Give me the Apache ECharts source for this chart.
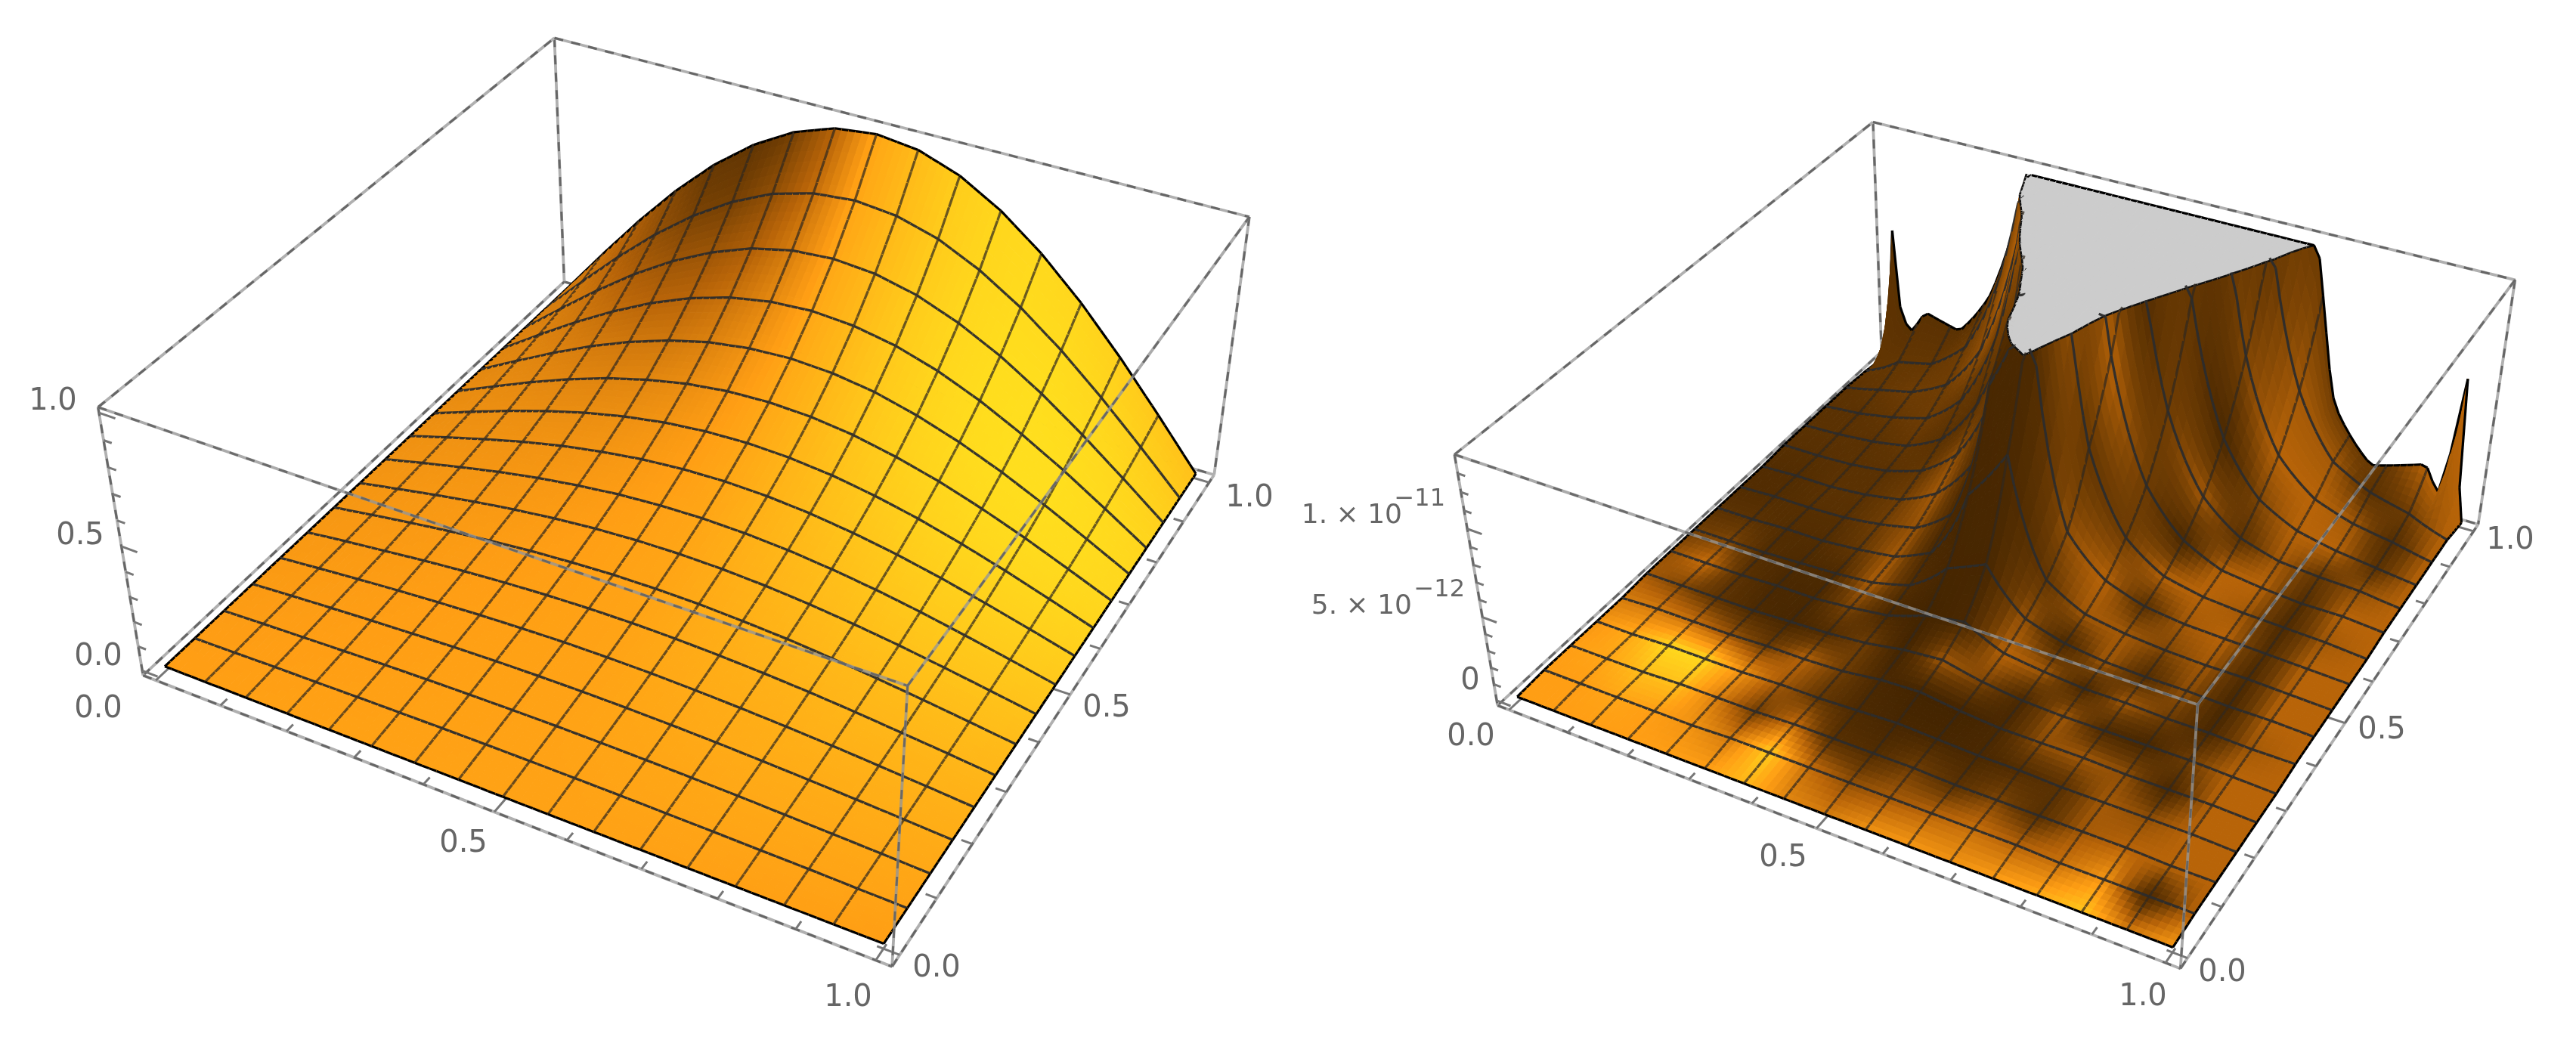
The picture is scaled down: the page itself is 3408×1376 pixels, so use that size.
<!DOCTYPE html>
<html><head><meta charset="utf-8">
<style>html,body{margin:0;padding:0;background:#fff}#c{width:3408px;height:1376px}</style>
<script src="https://cdn.jsdelivr.net/npm/echarts@6/dist/echarts.min.js"></script></head>
<body><div id="c"></div>
<script>
// ---------- values (rows: y = 0 .. 1, columns: x = 0 .. 1) ----------
const solutionZ = [
[0,0,0,0,0,0,0,0,0,0,0,0,0,0,0,0,0],
[0,.003,.007,.009,.012,.014,.016,.017,.017,.017,.016,.014,.012,.009,.007,.003,0],
[0,.007,.013,.019,.025,.029,.032,.034,.035,.034,.032,.029,.025,.019,.013,.007,0],
[0,.011,.021,.030,.038,.045,.050,.053,.054,.053,.050,.045,.038,.030,.021,.011,0],
[0,.015,.029,.042,.053,.062,.069,.074,.075,.074,.069,.062,.053,.042,.029,.015,0],
[0,.020,.038,.056,.071,.083,.092,.098,.100,.098,.092,.083,.071,.056,.038,.020,0],
[0,.025,.049,.071,.090,.106,.117,.125,.127,.125,.117,.106,.090,.071,.049,.025,0],
[0,.031,.061,.089,.113,.133,.148,.157,.160,.157,.148,.133,.113,.089,.061,.031,0],
[0,.039,.076,.111,.141,.165,.184,.195,.199,.195,.184,.165,.141,.111,.076,.039,0],
[0,.048,.094,.137,.174,.204,.227,.241,.246,.241,.227,.204,.174,.137,.094,.048,0],
[0,.059,.116,.168,.214,.251,.279,.296,.302,.296,.279,.251,.214,.168,.116,.059,0],
[0,.072,.142,.206,.262,.307,.342,.363,.370,.363,.342,.307,.262,.206,.142,.072,0],
[0,.088,.173,.252,.320,.376,.419,.444,.453,.444,.419,.376,.320,.252,.173,.088,0],
[0,.108,.212,.307,.391,.460,.511,.542,.553,.542,.511,.460,.391,.307,.212,.108,0],
[0,.131,.258,.375,.477,.560,.623,.661,.674,.661,.623,.560,.477,.375,.258,.131,0],
[0,.160,.314,.456,.580,.682,.759,.805,.821,.805,.759,.682,.580,.456,.314,.160,0],
[0,.195,.383,.556,.707,.831,.924,.981,1,.981,.924,.831,.707,.556,.383,.195,0]];

// error surface, in units of 1e-12 (values above the clip level lie under the grey plateau)
const errorZ = [
[0,0,0,0,0,0,0,0,0,0,0,0,0,0,0,0,0],
[.1,.1,.1,.1,.1,.2,.2,.2,.2,.2,.2,.2,.2,.1,.1,.1,.1],
[.1,.1,.1,.2,.2,.2,.3,.3,.3,.3,.2,.2,.2,.2,.2,.1,.1],
[.1,.1,.2,.2,.2,.3,.3,.4,.5,.4,.3,.3,.2,.2,.2,.2,.1],
[.1,.2,.2,.2,.3,.3,.4,.7,.8,.5,.3,.3,.3,.2,.2,.2,.1],
[.2,.2,.2,.2,.3,.4,.6,1.0,1.2,.7,.4,.3,.3,.3,.3,.2,.1],
[.2,.2,.2,.3,.3,.5,.8,1.6,2.0,.9,.6,.4,.4,.3,.3,.2,.2],
[.2,.2,.2,.3,.4,.6,1.2,3.0,4.0,1.5,.8,.5,.4,.4,.3,.3,.2],
[.2,.2,.3,.3,.5,.8,1.8,6,9,2.4,1.1,.7,.5,.4,.4,.3,.2],
[.2,.3,.3,.4,.7,1.2,2.8,11,16,3.9,1.7,.9,.6,.5,.4,.3,.2],
[.2,.3,.3,.5,.9,2.0,4.5,14,25,7.5,2.9,1.3,.8,.6,.5,.4,.2],
[.3,.3,.4,.7,1.4,3.1,7.3,18,30,11.5,4.7,2.1,1.0,.7,.5,.5,.3],
[.3,.4,.6,1.0,2.1,4.9,11,27,45,18.5,7.8,3.4,1.6,.9,.7,.6,.3],
[.3,.5,.9,1.5,3.3,7.8,19,47,78,31,13,5.6,2.6,1.4,.9,.6,.3],
[.3,.8,1.3,2.4,5.2,12,31,78,130,54,22,9.2,4.0,2.0,1.2,.8,.3],
[.2,1.4,1.9,3.6,8.5,20,50,125,200,91,38,15,6.6,3.0,1.8,1.2,.3],
[0,3.4,3,5,11,25,70,150,200,120,45,16,8,3,2.5,2.2,0]];

// finer reading of the back edge y = 1 of the error surface (spikes narrower than a mesh cell)
const errorBackX = [0,.0104,.0208,.0312,.048,.078,.141,.197,.227,.262,.30,.40,.50,.60,.70,.725,.742,.76,.784,.851,.935,.958,.979,1];
const errorBackZ = [0,2.5,8.2,3.5,2,3.6,3,5.7,8.6,13.6,22,80,200,80,18,14,12.8,9,4.9,1.9,2.9,1.4,8.6,0];

// colour level of the error surface read per mesh node (0 dark brown, .5 orange brown, .75 orange, 1 yellow)
const errorShade = [
[.75,.75,.75,.75,.75,.75,.85,.65,.6,.7,.72,.7,.75,.8,.9,.6,.72],
[.75,.75,.78,.75,.7,.6,.92,.55,.4,.45,.5,.55,.5,.55,.72,.12,.5],
[.75,.78,.87,.88,.62,.3,.55,.18,.15,.3,.2,.35,.18,.45,.5,.5,.5],
[.72,.8,.95,.95,.7,.45,.25,.12,.08,.08,.1,.15,.2,.45,.4,.5,.5],
[.6,.6,.55,.42,.28,.5,.3,.1,.05,.05,.1,.4,.45,.4,.1,.5,.5],
[.45,.35,.22,.12,.08,.15,.3,.05,.45,.35,.1,.45,.12,.08,.3,.5,.5],
[.4,.55,.2,.1,.1,.35,.1,.05,.1,.5,.45,.1,.45,.3,.1,.45,.5],
[.3,.35,.15,.12,.12,.48,.15,.08,.08,.42,.1,.45,.15,.4,.08,.5,.5],
[.2,.2,.15,.15,.25,.45,.1,.08,.1,.25,.45,.45,.35,.45,.12,.5,.5],
[.15,.15,.18,.18,.3,.42,.12,.1,.1,.4,.5,.2,.45,.5,.15,.5,.5],
[.15,.15,.2,.2,.3,.45,.15,.2,.5,.25,.3,.5,.5,.45,.12,.45,.5],
[.18,.18,.2,.2,.25,.4,.2,.35,.1,.5,.3,.1,.5,.5,.15,.5,.5],
[.2,.2,.2,.25,.2,.2,.3,.4,.3,.1,.3,.45,.2,.45,.25,.4,.5],
[.2,.2,.25,.3,.25,.3,.45,.35,.3,.3,.25,.1,.35,.5,.5,.2,.5],
[.2,.25,.3,.3,.4,.5,.4,.3,.3,.3,.2,.35,.5,.5,.45,.15,.5],
[.25,.25,.25,.3,.35,.4,.3,.3,.3,.3,.3,.25,.45,.45,.2,.3,.5],
[.2,.2,.2,.2,.25,.3,.3,.3,.3,.3,.3,.3,.3,.3,.25,.5,.5]];

const xyTicks = [0,.1,.2,.3,.4,.5,.6,.7,.8,.9,1];
const xyMajor = [0,.5,1];
const xyLabels = ['0.0','0.5','1.0'];
const zTicksLeft = [0,.1,.2,.3,.4,.5,.6,.7,.8,.9,1];
const zMajorLeft = [0,.5,1];
const zLabelsLeft = ['0.0','0.5','1.0'];
const zTicksRight = [0,1,2,3,4,5,6,7,8,9,10,11,12,13];
const zMajorRight = [0,5,10];
const zLabelsRight = ['0','5. × 10','1. × 10'];
const zExponents = ['−12','−11'];

// ---------- view calibration ----------
const panels = [{
  z: solutionZ, zBox:[-.02,1.02], clip:Infinity, sub:6, log:false,
  A:[[188,893],[131,538]], B:[[1180,1278],[1201,910]], C:[[1607,627],[1652,287]], D:[[747,375],[733,49]],
  zTicks:zTicksLeft, zMajor:zMajorLeft
},{
  z: errorZ, zBox:[-.3,14], clip:13.6, sub:6, log:true, shade:errorShade, backX:errorBackX, backZ:errorBackZ, crisp:true,
  A:[[1978,927],[1927,602]], B:[[2886,1282],[2907,939]], C:[[3282,685],[3323,374]], D:[[2488,478],[2480,153]],
  zTicks:zTicksRight, zMajor:zMajorRight
}];
const labelSpots = [
 {t:xyLabels[0],p:[130,939]},{t:xyLabels[1],p:[613,1117]},{t:xyLabels[2],p:[1122,1321]},
 {t:xyLabels[0],p:[1239,1282]},{t:xyLabels[1],p:[1464,938]},{t:xyLabels[2],p:[1653,660]},
 {t:zLabelsLeft[0],p:[130,870]},{t:zLabelsLeft[1],p:[106,710]},{t:zLabelsLeft[2],p:[70,532]},
 {t:xyLabels[0],p:[1946,976]},{t:xyLabels[1],p:[2359,1136]},{t:xyLabels[2],p:[2835,1320]},
 {t:xyLabels[0],p:[2940,1288]},{t:xyLabels[1],p:[3151,967]},{t:xyLabels[2],p:[3321,716]},
 {t:zLabelsRight[0],p:[1945,902]},
 {t:zLabelsRight[1],p:[1868,803],a:'right',s:36},{t:zExponents[0],p:[1938,781],a:'right',s:32},
 {t:zLabelsRight[2],p:[1855,683],a:'right',s:36},{t:zExponents[1],p:[1912,661],a:'right',s:32}
];

// ---------- projection: 3x4 camera matrix fitted to the eight box corners ----------
function fitCamera(p){
  const pts=[];
  [[0,0,p.A],[1,0,p.B],[1,1,p.C],[0,1,p.D]].forEach(c=>{
    pts.push([c[0],c[1],0,c[2][0][0]/1000,c[2][0][1]/1000]);
    pts.push([c[0],c[1],1,c[2][1][0]/1000,c[2][1][1]/1000]);
  });
  const M=[],R=[];
  pts.forEach(q=>{const [u,v,w,x,y]=q;
    M.push([u,v,w,1,0,0,0,0,-x*u,-x*v,-x*w]);R.push(x);
    M.push([0,0,0,0,u,v,w,1,-y*u,-y*v,-y*w]);R.push(y);});
  const n=11,N=[];
  for(let a=0;a<n;a++){N.push(new Array(n+1).fill(0));
    for(let b=0;b<n;b++)for(let k=0;k<M.length;k++)N[a][b]+=M[k][a]*M[k][b];
    for(let k=0;k<M.length;k++)N[a][n]+=M[k][a]*R[k];}
  for(let c=0;c<n;c++){let m=c;for(let r=c+1;r<n;r++)if(Math.abs(N[r][c])>Math.abs(N[m][c]))m=r;
    [N[c],N[m]]=[N[m],N[c]];
    for(let r=0;r<n;r++)if(r!==c){const f=N[r][c]/N[c][c];for(let k=c;k<=n;k++)N[r][k]-=f*N[c][k];}}
  return N.map((row,i)=>row[n]/row[i]);
}
panels.forEach(p=>{p.cam=fitCamera(p);
  p.project=function(x,y,z){
    const u=(x+.02)/1.04,v=(y+.02)/1.04,w=(z-p.zBox[0])/(p.zBox[1]-p.zBox[0]),c=p.cam;
    const d=c[8]*u+c[9]*v+c[10]*w+1;
    return [1000*(c[0]*u+c[1]*v+c[2]*w+c[3])/d,1000*(c[4]*u+c[5]*v+c[6]*w+c[7])/d];
  };
});

// ---------- colour ----------
const stops=[[0,[63,34,0]],[.25,[110,60,3]],[.5,[184,100,8]],[.75,[255,158,20]],[.85,[255,184,24]],[1,[255,232,31]]];
function colour(l){
  l=Math.max(0,Math.min(1,l));
  for(let k=1;k<stops.length;k++)if(l<=stops[k][0]){
    const a=stops[k-1],b=stops[k],f=(l-a[0])/(b[0]-a[0]);
    return 'rgb('+[0,1,2].map(c=>Math.round(a[1][c]+(b[1][c]-a[1][c])*f)).join(',')+')';}
  return 'rgb(255,232,31)';
}
function litLevel(nx,ny){
  const my=Math.abs(ny);
  let l=.75+.15*my*(1-my);
  if(nx>=0)l+=.85*nx*Math.pow(1-nx,1.1)*(1-.5*my*my);
  else l-=(-nx)*(.2+3*my*my);
  return l;
}
function nodeShadeFromSlope(Z){
  const n=Z.length-1,h=1/16,out=[];
  for(let j=0;j<=n;j++){const r=[];for(let i=0;i<=n;i++){
    const i0=Math.max(0,i-1),i1=Math.min(n,i+1),j0=Math.max(0,j-1),j1=Math.min(n,j+1);
    const zx=.4*(Z[j][i1]-Z[j][i0])/((i1-i0)*h),zy=.4*(Z[j1][i]-Z[j0][i])/((j1-j0)*h);
    const l=Math.hypot(zx,zy,1);
    r.push(litLevel(-zx/l,-zy/l));}out.push(r);}
  return out;
}
panels[0].shade=nodeShadeFromSlope(solutionZ);

// ---------- fine sampling for drawing ----------
function prepare(p){
  const N=16*p.sub,zf=[],sf=[];
  const enc=p.log?(v=>Math.log(v+1)):(v=>v),dec=p.log?(v=>Math.exp(v)-1):(v=>v);
  const backRow=x=>{const X=p.backX,Z=p.backZ;let k=1;while(k<X.length-1&&x>X[k])k++;
    const f=(x-X[k-1])/(X[k]-X[k-1]);return enc(Z[k-1])*(1-f)+enc(Z[k])*f;};
  for(let j=0;j<=N;j++){const zr=[],sr=[];const y=j/N,g=y*16,j0=Math.min(15,Math.floor(g)),fy=g-j0;
    for(let i=0;i<=N;i++){const x=i/N,h=x*16,i0=Math.min(15,Math.floor(h)),fx=h-i0;
      const row=(r)=>(r===16&&p.backX)?backRow(x):enc(p.z[r][i0])*(1-fx)+enc(p.z[r][i0+1])*fx;
      zr.push(dec(row(j0)*(1-fy)+row(j0+1)*fy));
      const s=p.shade;
      let v=(s[j0][i0]*(1-fx)+s[j0][i0+1]*fx)*(1-fy)+(s[j0+1][i0]*(1-fx)+s[j0+1][i0+1]*fx)*fy;
      if(p.crisp&&v<.5)v=.5*Math.pow(2*v,1.35);
      sr.push(v);
    }zf.push(zr);sf.push(sr);}
  p.zf=zf;p.sf=sf;p.N=N;
}
panels.forEach(prepare);

const MESH_Y='rgba(44,44,44,.95)',MESH_X='rgba(48,40,30,.72)';
function seg(p,a,b,stroke,w){
  const c=Math.min(a[2],p.clip),d=Math.min(b[2],p.clip);
  const q=p.project(a[0],a[1],c),r=p.project(b[0],b[1],d);
  return {type:'line',silent:true,shape:{x1:q[0],y1:q[1],x2:r[0],y2:r[1]},style:{stroke:stroke,lineWidth:w,fill:null}};
}
function surfaceRender(pi){
  const p=panels[pi];
  return function(params,api){
    const i=api.value(0),j=api.value(1),N=p.N,s=p.sub,Z=p.zf;
    const c=[[i/N,j/N,Z[j][i]],[(i+1)/N,j/N,Z[j][i+1]],[(i+1)/N,(j+1)/N,Z[j+1][i+1]],[i/N,(j+1)/N,Z[j+1][i]]];
    const lvl=(p.sf[j][i]+p.sf[j][i+1]+p.sf[j+1][i]+p.sf[j+1][i+1])/4;
    const fill=colour(lvl),kids=[];
    const below=[],above=[],cross=[];
    for(let k=0;k<4;k++){const a=c[k],b=c[(k+1)%4],ain=a[2]>=p.clip,bin=b[2]>=p.clip;
      (ain?above:below).push(a);
      if(ain!==bin){const f=(p.clip-a[2])/(b[2]-a[2]);
        const m=[a[0]+(b[0]-a[0])*f,a[1]+(b[1]-a[1])*f,p.clip];below.push(m);above.push(m);cross.push(m);}}
    const poly=(list,col)=>{const pts=list.map(q=>p.project(q[0],q[1],Math.min(q[2],p.clip)));
      kids.push({type:'polygon',silent:true,shape:{points:pts},style:{fill:col,stroke:col,lineWidth:1}});};
    if(below.length>2)poly(below,fill);
    if(above.length>2)poly(above,'#cccccc');
    if(cross.length===2)kids.push(seg(p,cross[0],cross[1],'#111',2.6));
    const both=(a,b)=>a[2]>=p.clip&&b[2]>=p.clip;
    if(i%s===0&&i>0&&!both(c[0],c[3]))kids.push(seg(p,c[0],c[3],MESH_X,3.3));
    if((j+1)%s===0&&j+1<N&&!both(c[2],c[3]))kids.push(seg(p,c[3],c[2],MESH_Y,3.3));
    if(i===0)kids.push(seg(p,c[0],c[3],'#000',3.2));
    if(i===N-1)kids.push(seg(p,c[1],c[2],'#000',3.2));
    if(j===0)kids.push(seg(p,c[0],c[1],'#000',3.2));
    if(j===N-1)kids.push(seg(p,c[3],c[2],'#000',3.2));
    return {type:'group',children:kids};
  };
}
function cellList(p){
  const out=[];
  for(let j=p.N-1;j>=0;j--)for(let i=0;i<p.N;i++)out.push([i,j]);
  return out;
}

// ---------- box ----------
function boxLine(a,b,over){
  const base={type:'line',silent:true,shape:{x1:a[0],y1:a[1],x2:b[0],y2:b[1]},
    style:{stroke:over?'rgba(150,150,150,.8)':'#b0b0b0',lineWidth:3.8,fill:null}};
  const dark={type:'line',silent:true,shape:{x1:a[0],y1:a[1],x2:b[0],y2:b[1]},
    style:{stroke:over?'rgba(95,95,95,.85)':'#666666',lineWidth:3,lineDash:[12,11],fill:null}};
  return [base,dark];
}
function corner(p,cx,cy,cz){return p.project(cx?1.02:-.02,cy?1.02:-.02,cz?p.zBox[1]:p.zBox[0]);}
function boxRender(layer){
  return function(params,api){
    const p=panels[api.value(0)],kids=[];
    const e=(a,b)=>kids.push(...boxLine(corner(p,a[0],a[1],a[2]),corner(p,b[0],b[1],b[2]),layer==='front'));
    if(layer==='back'){
      e([0,0,0],[0,1,0]);e([0,1,0],[1,1,0]);e([0,1,1],[0,1,0]);e([0,0,1],[0,1,1]);e([0,1,1],[1,1,1]);
      e([0,0,1],[0,0,0]);e([1,1,1],[1,1,0]);e([0,0,0],[1,0,0]);e([1,0,0],[1,1,0]);
      const tick=(a,b)=>{kids.push({type:'line',silent:true,shape:{x1:a[0],y1:a[1],x2:b[0],y2:b[1]},style:{stroke:'#777',lineWidth:3,fill:null}});};
      xyTicks.forEach(v=>{const L=xyMajor.includes(v)?.028:.014;
        tick(p.project(v,-.02,p.zBox[0]),p.project(v,-.02+L,p.zBox[0]));
        tick(p.project(1.02,v,p.zBox[0]),p.project(1.02-L,v,p.zBox[0]));});
      p.zTicks.forEach(v=>{const L=p.zMajor.includes(v)?.024:.012;
        tick(p.project(-.02,-.02,v),p.project(-.02+L,-.02,v));});
    }else{
      e([0,0,1],[1,0,1]);e([1,0,1],[1,1,1]);e([1,0,1],[1,0,0]);
    }
    return {type:'group',children:kids};
  };
}

const option={
  animation:false,
  backgroundColor:'#ffffff',
  series:[
    {type:'custom',coordinateSystem:'none',z:1,silent:true,animation:false,data:[[0],[1]],renderItem:boxRender('back')},
    {type:'custom',coordinateSystem:'none',z:2,silent:true,animation:false,progressive:0,data:cellList(panels[0]),renderItem:surfaceRender(0)},
    {type:'custom',coordinateSystem:'none',z:3,silent:true,animation:false,progressive:0,data:cellList(panels[1]),renderItem:surfaceRender(1)},
    {type:'custom',coordinateSystem:'none',z:4,silent:true,animation:false,data:[[0],[1]],renderItem:boxRender('front')},
    {type:'custom',coordinateSystem:'none',z:5,silent:true,animation:false,
     data:labelSpots.map((l,k)=>[k]),
     renderItem:function(params,api){const l=labelSpots[api.value(0)];
       return {type:'text',silent:true,style:{text:l.t,x:l.p[0],y:l.p[1],fill:'#666666',
         fontFamily:'DejaVu Sans',fontSize:l.s||40,textAlign:l.a||'center',textVerticalAlign:'middle'}};}}
  ]
};
const chart=echarts.init(document.getElementById('c'),null,{renderer:'canvas',width:3408,height:1376});
chart.setOption(option);
</script></body></html>
